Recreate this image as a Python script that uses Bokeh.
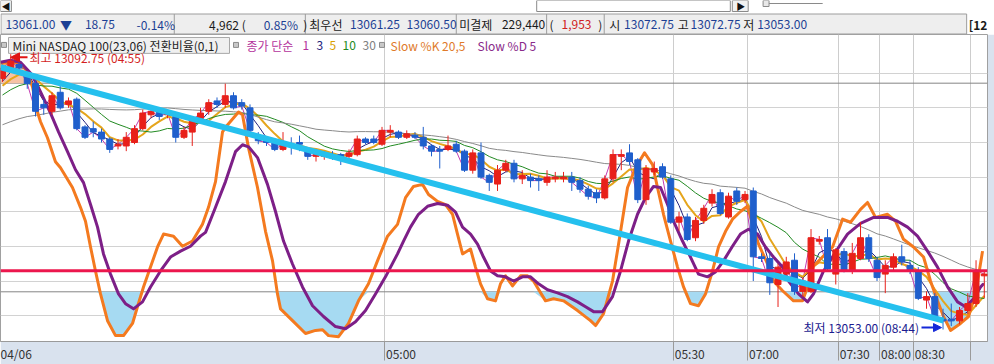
import numpy as np
import pandas as pd
from bokeh.plotting import figure
from bokeh.models import Range1d, FixedTicker, Span, Arrow, NormalHead, ColumnDataSource
from bokeh.layouts import column
from bokeh.embed import file_html
from bokeh.resources import INLINE
from bokeh.core.properties import value

FONT = "Noto Sans CJK KR"

# ---------------- data ----------------
opens = [13089.25, 13090.5, 13091.25, 13089.75, 13088.5, 13085.5, 13084.5, 13087.25, 13085.5, 13086.25,
         13082.25, 13082.0, 13081.5, 13080.5, 13079.5, 13079.5, 13080.0, 13082.0, 13084.0, 13084.5,
         13084.0, 13083.75, 13080.75, 13081.5, 13083.5, 13084.5, 13086.0, 13085.5, 13086.75, 13085.75,
         13085.0, 13080.75, 13080.25, 13080.0, 13079.0, 13079.75, 13080.0, 13078.75, 13078.0, 13078.0,
         13078.0, 13078.25, 13078.0, 13078.25, 13080.5, 13080.5, 13079.75, 13081.5, 13081.5, 13080.75,
         13081.0, 13080.75, 13079.5, 13079.0, 13079.0, 13079.75, 13078.75, 13076.0, 13078.5, 13075.25,
         13074.0, 13076.0, 13077.0, 13074.75, 13075.0, 13074.75, 13074.25, 13074.75, 13074.75, 13075.0,
         13074.5, 13073.25, 13072.75, 13072.0, 13074.75, 13078.0, 13078.5, 13077.5, 13071.75, 13075.75,
         13076.5, 13074.75, 13068.5, 13069.25, 13066.25, 13068.75, 13071.25, 13072.75, 13069.25, 13073.0,
         13071.75, 13073.0, 13063.5, 13063.25, 13059.5, 13061.0, 13063.0, 13058.5, 13058.5, 13065.75,
         13066.25, 13061.0, 13064.25, 13061.5, 13063.25, 13066.25, 13063.0, 13061.0, 13062.0, 13063.5,
         13062.25, 13061.5, 13057.25, 13057.75, 13054.5, 13054.5, 13054.25, 13055.75, 13056.75, 13060.75]
highs = [13091.25, 13092.75, 13092.25, 13090.25, 13089.0, 13086.25, 13087.25, 13088.25, 13086.5, 13086.5,
         13082.5, 13083.0, 13082.0, 13080.75, 13080.5, 13081.5, 13082.5, 13084.75, 13085.0, 13085.0,
         13084.75, 13084.0, 13082.25, 13083.75, 13085.0, 13086.25, 13086.5, 13088.5, 13087.25, 13086.25,
         13085.5, 13081.5, 13080.75, 13080.5, 13081.5, 13080.75, 13081.0, 13079.0, 13079.0, 13078.75,
         13078.75, 13078.5, 13079.0, 13081.0, 13080.75, 13081.0, 13082.25, 13082.5, 13081.75, 13081.75,
         13081.5, 13082.25, 13079.75, 13079.5, 13081.0, 13080.25, 13079.0, 13079.0, 13080.0, 13075.5,
         13076.75, 13077.5, 13077.5, 13076.0, 13075.5, 13075.25, 13076.0, 13075.75, 13075.75, 13075.75,
         13075.0, 13073.75, 13073.25, 13075.25, 13079.0, 13079.0, 13079.75, 13077.75, 13076.75, 13077.25,
         13077.0, 13075.25, 13070.0, 13069.75, 13069.25, 13071.0, 13073.25, 13073.25, 13072.75, 13073.5,
         13073.0, 13073.5, 13064.0, 13064.0, 13062.5, 13063.5, 13064.0, 13060.5, 13067.5, 13066.5,
         13067.5, 13064.75, 13064.75, 13065.5, 13068.5, 13066.75, 13063.5, 13063.0, 13064.0, 13065.25,
         13063.0, 13062.0, 13058.5, 13058.25, 13056.0, 13056.75, 13056.25, 13058.25, 13063.0, 13061.5]
lows = [13088.75, 13090.25, 13089.75, 13087.75, 13083.75, 13084.0, 13084.0, 13084.75, 13085.0, 13081.75,
        13080.5, 13080.75, 13080.0, 13078.5, 13079.0, 13078.75, 13079.75, 13081.75, 13083.5, 13083.25,
        13083.5, 13080.0, 13080.5, 13079.5, 13083.0, 13084.0, 13085.0, 13085.0, 13084.75, 13084.75,
        13081.5, 13079.75, 13079.5, 13078.75, 13078.75, 13078.25, 13078.75, 13077.5, 13077.25, 13077.5,
        13077.5, 13076.75, 13077.5, 13078.0, 13079.75, 13079.75, 13079.5, 13080.75, 13080.5, 13080.5,
        13080.5, 13079.0, 13078.0, 13076.25, 13078.75, 13078.5, 13075.75, 13075.5, 13074.75, 13073.0,
        13073.0, 13075.75, 13074.25, 13074.0, 13073.5, 13073.0, 13073.75, 13074.25, 13074.25, 13073.0,
        13072.75, 13071.75, 13071.25, 13071.75, 13074.25, 13076.0, 13076.75, 13071.25, 13071.0, 13075.25,
        13074.75, 13068.25, 13067.25, 13065.75, 13065.75, 13068.25, 13070.75, 13069.5, 13069.0, 13071.0,
        13071.25, 13060.0, 13062.75, 13058.0, 13056.25, 13060.5, 13058.0, 13057.75, 13058.25, 13065.25,
        13061.5, 13059.5, 13061.25, 13061.0, 13063.0, 13062.75, 13060.0, 13058.25, 13061.5, 13062.25,
        13061.0, 13057.25, 13056.0, 13054.25, 13053.0, 13053.5, 13053.75, 13055.25, 13056.25, 13057.5]
closes = [13090.75, 13091.75, 13090.75, 13088.5, 13084.5, 13085.0, 13086.75, 13085.0, 13086.0, 13082.0,
          13080.75, 13081.5, 13080.5, 13079.0, 13079.75, 13080.75, 13082.0, 13084.25, 13084.5, 13083.75,
          13084.25, 13080.75, 13081.75, 13083.25, 13084.25, 13085.75, 13085.5, 13086.75, 13085.0, 13085.25,
          13081.75, 13080.25, 13080.0, 13079.0, 13079.75, 13079.5, 13079.75, 13078.0, 13078.25, 13078.5,
          13077.75, 13078.0, 13078.5, 13080.5, 13080.0, 13080.0, 13081.75, 13081.75, 13080.75, 13081.25,
          13080.75, 13079.5, 13078.75, 13078.75, 13079.5, 13078.75, 13076.0, 13078.5, 13075.0, 13074.25,
          13076.0, 13077.0, 13074.75, 13075.25, 13074.5, 13074.5, 13075.0, 13075.0, 13075.0, 13074.25,
          13073.25, 13072.25, 13072.0, 13074.75, 13078.25, 13078.25, 13077.25, 13071.75, 13076.25, 13076.25,
          13075.0, 13068.5, 13069.25, 13066.0, 13068.75, 13070.5, 13072.5, 13069.75, 13072.25, 13071.5,
          13072.5, 13063.5, 13063.25, 13059.75, 13062.0, 13062.75, 13058.5, 13060.0, 13066.25, 13066.0,
          13061.75, 13064.5, 13061.5, 13064.0, 13066.25, 13063.25, 13060.5, 13062.25, 13063.5, 13062.75,
          13061.5, 13057.5, 13057.75, 13054.5, 13054.25, 13054.25, 13055.75, 13056.75, 13061.5, 13061.0]
# closes before the visible window (estimated, only feed the moving averages)
prior_closes = [13078.0, 13078.5, 13079.0, 13079.25, 13079.0, 13079.5, 13080.0, 13080.25, 13079.75, 13080.0,
                13080.5, 13081.0, 13080.75, 13081.25, 13081.5, 13081.0, 13081.5, 13082.0, 13082.5, 13083.0,
                13084.0, 13085.0, 13085.5, 13086.25, 13086.75, 13087.0, 13087.5, 13087.75, 13088.0]

# Slow %K 20,5 (read points: bar position, value)
k_x = [-0.24, 1.58, 2.79, 3.64, 4.24, 4.61, 5.45, 6.42, 7.03, 8.48,
       9.45, 10.06, 10.67, 11.27, 11.88, 12.73, 13.7, 14.67, 15.76, 16.36,
       17.09, 17.94, 18.79, 19.52, 20.73, 21.82, 23.03, 24.24, 24.97, 25.82,
       26.67, 27.27, 28.61, 29.09, 29.82, 30.91, 31.88, 32.73, 33.33, 33.7,
       35.15, 36.73, 37.94, 38.79, 39.52, 40.73, 41.94, 43.15, 44.36, 45.45,
       46.67, 47.88, 48.85, 49.82, 50.91, 51.64, 52.73, 53.7, 54.55, 55.15,
       55.76, 56.73, 57.33, 57.94, 58.79, 59.76, 60.36, 60.97, 61.82, 62.79,
       63.64, 64.36, 65.82, 66.79, 68.0, 69.7, 71.27, 71.88, 72.85, 73.94,
       74.67, 75.76, 76.73, 77.82, 78.79, 79.39, 80.12, 80.97, 81.82, 82.55,
       83.39, 84.36, 85.21, 86.06, 86.79, 87.64, 88.48, 89.45, 90.3, 90.91,
       91.64, 92.73, 93.45, 94.55, 95.88, 96.97, 97.58, 98.3, 99.39, 100.61,
       101.82, 102.79, 104.0, 104.85, 105.82, 107.27, 108.24, 109.21, 110.42, 111.64,
       112.48, 113.33, 114.06, 114.91, 116.12, 117.09, 117.94, 118.79]
k_v = [85.7, 86.0, 84.3, 78.9, 71.7, 68.9, 64.3, 57.4, 55.7, 50.0,
       44.3, 40.3, 32.9, 26.0, 19.4, 11.7, 7.4, 7.4, 10.9, 15.7,
       21.4, 27.1, 32.9, 36.6, 36.0, 33.1, 34.6, 39.4, 44.3, 51.7,
       66.0, 68.0, 71.7, 70.9, 61.4, 50.0, 37.4, 28.9, 19.4, 15.1,
       11.7, 8.0, 8.9, 9.1, 7.4, 7.1, 10.9, 17.4, 22.3, 28.9,
       36.0, 39.4, 47.1, 50.3, 50.9, 48.0, 46.0, 45.1, 42.3, 36.6,
       30.9, 32.3, 27.1, 22.3, 18.0, 17.4, 22.3, 24.6, 21.7, 24.6,
       24.6, 23.1, 17.4, 18.0, 17.4, 14.6, 11.7, 10.3, 13.7, 23.1,
       33.7, 50.0, 55.7, 60.0, 56.6, 50.0, 42.3, 34.6, 27.1, 21.4,
       16.6, 16.0, 19.4, 26.0, 32.9, 37.4, 40.9, 43.1, 44.6, 39.4,
       33.7, 28.0, 23.1, 20.3, 17.4, 17.4, 21.4, 27.4, 30.0, 32.9,
       40.9, 40.0, 43.7, 45.7, 41.4, 42.3, 40.3, 35.1, 32.9, 30.0,
       23.1, 17.4, 12.9, 8.9, 10.9, 12.9, 19.4, 31.7]
# Slow %D 5
d_x = [-0.24, 0.97, 2.18, 3.39, 4.24, 4.97, 5.82, 6.79, 7.88, 8.85,
       9.82, 10.67, 11.52, 12.24, 13.09, 14.06, 14.91, 15.88, 16.97, 17.94,
       19.15, 20.36, 21.58, 22.79, 24.0, 24.61, 25.82, 27.03, 28.24, 29.09,
       29.82, 30.91, 32.12, 33.09, 34.06, 35.15, 36.36, 37.58, 38.91, 40.36,
       41.58, 42.79, 44.0, 45.21, 46.42, 47.88, 48.61, 49.45, 50.42, 51.52,
       52.73, 53.94, 54.91, 55.76, 56.73, 57.58, 58.3, 59.15, 60.0, 60.97,
       61.94, 63.03, 64.0, 64.97, 66.06, 67.27, 68.48, 69.7, 70.67, 71.64,
       72.73, 73.94, 74.91, 75.88, 76.97, 77.94, 78.91, 79.76, 80.61, 81.33,
       82.42, 83.39, 84.36, 85.45, 86.42, 87.39, 88.48, 89.45, 90.42, 91.52,
       92.48, 93.45, 94.55, 95.27, 96.48, 97.58, 98.3, 99.52, 101.21, 102.42,
       104.0, 105.58, 107.27, 108.48, 109.7, 110.91, 112.12, 113.33, 114.55, 115.76,
       116.73, 117.7, 118.55, 118.91]
d_v = [86.0, 86.6, 86.0, 82.9, 79.4, 75.7, 71.4, 66.0, 60.3, 55.1,
       51.4, 45.1, 38.6, 30.9, 25.1, 19.4, 16.6, 15.1, 17.1, 21.4,
       26.0, 30.0, 31.7, 33.1, 36.0, 37.1, 44.3, 51.7, 60.3, 62.3,
       61.7, 58.6, 50.9, 43.1, 34.6, 28.0, 21.4, 16.0, 12.9, 10.0,
       9.4, 11.4, 14.6, 19.4, 24.3, 30.9, 34.6, 38.6, 42.3, 44.6,
       45.4, 44.9, 42.9, 38.6, 36.6, 33.7, 30.0, 26.0, 24.6, 24.3,
       23.1, 24.3, 24.3, 22.3, 20.6, 19.7, 18.6, 17.1, 15.7, 14.3,
       14.3, 18.6, 26.0, 34.6, 42.3, 47.1, 50.3, 50.0, 45.1, 40.3,
       34.6, 30.0, 25.1, 24.3, 25.7, 28.9, 33.1, 36.6, 38.0, 36.6,
       32.9, 30.0, 27.1, 23.1, 19.4, 17.1, 19.4, 26.0, 32.3, 36.6,
       39.7, 41.4, 41.4, 40.3, 38.6, 36.0, 31.7, 27.1, 21.4, 17.1,
       15.7, 18.0, 21.4, 22.3]

stoch_levels = [80, 20]
trend_x = [-0.24, 114.06]
trend_y = [13090.86, 13054.28]
price_line = 13061.5
grid_prices = [13055, 13060, 13065, 13070, 13075, 13080, 13085, 13090]
sep_pos = [46.3, 81.3, 90.3, 101.3, 106.3, 110.4, 117.3]          # time separators (bar units)
label_pos = [1.4, 48.3, 83.3, 92.3, 103.3, 108.3, 112.4]          # label centres (bar units)
tick_labels = ["04/06", "05:00", "05:30", "07:00", "07:30", "08:00", "08:30"]
ma_periods = [1, 3, 5, 10, 30]
ma_colors = ["#c23ab0", "#23237e", "#e5a51c", "#228a22", "#8a8a8a"]
ma_widths = [1, 1, 2, 1, 1]

# ---------------- main chart ----------------
n = len(closes)
idx = np.arange(n)
all_c = pd.Series(prior_closes + closes)

p = figure(width=994, height=330,
           x_range=Range1d(-0.242, 119.39), y_range=Range1d(13051.27, 13095.59),
           output_backend="svg", toolbar_location=None, y_axis_location=None,
           min_border_left=0, min_border_right=7, min_border_top=0, min_border_bottom=21)
p.extra_x_ranges = {"px": Range1d(0, 987)}
p.extra_y_ranges = {"px": Range1d(343, 34), "stoch": Range1d(5.71, 94.0)}
p.background_fill_color = "white"
p.border_fill_color = "#d9e2ee"
p.outline_line_color = "#a0a0a0"

p.xaxis.ticker = FixedTicker(ticks=label_pos, minor_ticks=sep_pos)
p.xaxis.major_label_overrides = {t: l for t, l in zip(label_pos, tick_labels)}
p.xaxis.major_label_text_font = FONT
p.xaxis.major_label_text_font_size = "12px"
p.xaxis.major_label_text_color = "#333333"
p.xaxis.axis_line_color = "#9a9a9a"
p.xaxis.major_tick_line_color = None
p.xaxis.major_tick_out = 0
p.xaxis.major_tick_in = 0
p.xaxis.minor_tick_line_color = "#9a9a9a"
p.xaxis.minor_tick_out = 19
p.xaxis.minor_tick_in = 0
p.xaxis.major_label_standoff = -16

p.xgrid.ticker = FixedTicker(ticks=sep_pos)
p.xgrid.grid_line_color = "#cdcdcd"
p.ygrid.ticker = FixedTicker(ticks=grid_prices)
p.ygrid.grid_line_color = "#d2d2d2"

# stochastic fills
k_arr = np.array(k_v[:len(k_x)])
kx = np.array(k_x[:len(k_arr)])
p.varea(x=kx, y1=20, y2=np.minimum(k_arr, 20), fill_color="#a6daf2", y_range_name="stoch")
p.varea(x=kx, y1=80, y2=np.maximum(k_arr, 80), fill_color="#f6c3a5", y_range_name="stoch")
for lv in stoch_levels:
    p.add_layout(Span(location=lv, dimension="width", y_range_name="stoch",
                      line_color="#858585", line_width=1, level="underlay"))

# moving averages of close
for per, col, w in zip(ma_periods, ma_colors, ma_widths):
    ma = all_c.rolling(per).mean().to_numpy()[len(prior_closes):]
    p.line(idx, ma, line_color=col, line_width=w)

# stochastic lines
p.line(kx, k_arr, y_range_name="stoch", line_color="#f47a1f", line_width=3, line_join="round")
m = min(len(d_x), len(d_v))
p.line(d_x[:m], d_v[:m], y_range_name="stoch", line_color="#7d1f87", line_width=3, line_join="round")

# candles
o = np.array(opens); c = np.array(closes)
colors = ["#e8201a" if cc >= oo else "#1f5fcc" for oo, cc in zip(o, c)]
src = ColumnDataSource(dict(x=idx, h=highs, l=lows, top=np.maximum(o, c), bot=np.minimum(o, c), color=colors))
p.segment(x0="x", y0="h", x1="x", y1="l", line_color="color", line_width=1, source=src)
p.vbar(x="x", top="top", bottom="bot", width=0.72, fill_color="color", line_color="color",
       line_width=1, source=src)

# trend line and price line
p.line(trend_x, trend_y, line_color="#25c0ee", line_width=6)
p.add_layout(Span(location=price_line, dimension="width", line_color="#ec174d", line_width=3))

# legend row
p.quad(left=[1, 233, 379], right=[6, 238, 384], bottom=[47, 47, 47], top=[42, 42, 42],
       fill_color="#c8c8c8", line_color="#8c8c8c", x_range_name="px", y_range_name="px")
p.quad(left=8, right=229, bottom=53, top=37, fill_color="#f0f0f0", line_color="#a8a8a8",
       x_range_name="px", y_range_name="px")
leg = ColumnDataSource(dict(
    x=[12, 246, 302, 316, 329, 342, 362, 390, 477],
    y=[45] * 9,
    t=["Mini NASDAQ 100(23,06) 전환비율(0,1)", "종가 단순", "1", "3", "5", "10", "30",
       "Slow %K 20,5", "Slow %D 5"],
    c=["#1e1e1e", "#b4329c", "#b4329c", "#23237e", "#d9a000", "#228a22", "#808080",
       "#e07a2a", "#8a2a8a"]))
p.text(x="x", y="y", text="t", text_color="c", source=leg, text_font=value(FONT),
       text_font_size="12px", text_baseline="middle", text_align="left",
       x_range_name="px", y_range_name="px")

# high / low annotations
p.add_layout(Arrow(end=NormalHead(size=9, fill_color="#e01414", line_color="#e01414"),
                   x_start=27, y_start=57, x_end=10, y_end=57, line_color="#e01414", line_width=2,
                   x_range_name="px", y_range_name="px"))
p.text(x=[29], y=[57], text=["최고 13092.75 (04:55)"], text_color="#d41f1f", text_font=value(FONT),
       text_font_size="12px", text_baseline="middle", x_range_name="px", y_range_name="px")
p.text(x=[803], y=[329], text=["최저 13053.00 (08:44)"], text_color="#1b1b8f", text_font=value(FONT),
       text_font_size="12px", text_baseline="middle", x_range_name="px", y_range_name="px")
p.add_layout(Arrow(end=NormalHead(size=8, fill_color="#1428d8", line_color="#1428d8"),
                   x_start=921, y_start=329, x_end=941, y_end=329, line_color="#1428d8", line_width=2,
                   x_range_name="px", y_range_name="px"))

# ---------------- toolbar strip + info bar ----------------
t = figure(width=994, height=34, x_range=Range1d(0, 994), y_range=Range1d(34, 0),
           output_backend="svg", toolbar_location=None, x_axis_location=None, y_axis_location=None,
           min_border=0)
t.background_fill_color = "#ffffff"
t.border_fill_color = "#ffffff"
t.outline_line_color = None
t.xgrid.visible = False
t.ygrid.visible = False
# toolbar remnants
t.quad(left=[0, 540, 737], right=[11, 735, 753], top=[0, 0, 0], bottom=[11, 11, 11],
       fill_color=["#f2f2f2", "#ffffff", "#f2f2f2"], line_color="#8a8a8a")
t.text(x=[1, 741], y=[5.5, 5.5], text=["◀", "▶"], text_color="#111111", text_font=value(FONT),
       text_font_size="9px", text_baseline="middle")
t.segment(x0=[768], y0=[3], x1=[828], y1=[3], line_color="#8a8a8a")
t.quad(left=[768], right=[774], top=[0], bottom=[6], fill_color="#e8e8e8", line_color="#8a8a8a")
# info bar
t.quad(left=0.5, right=973, top=13.5, bottom=33.5, fill_color="#eeeeee", line_color="#9c9c9c")
t.segment(x0=[175, 307, 459, 550, 608], y0=[13.5] * 5, x1=[175, 307, 459, 550, 608], y1=[33.5] * 5,
          line_color="#9c9c9c")
BLUE = "#1c3f94"
BLK = "#1a1a1a"
info = ColumnDataSource(dict(
    x=[5, 60, 85, 137, 210, 265, 305, 311, 352, 409, 462, 505, 553, 565, 602, 613, 628, 682, 695, 748, 762],
    y=[23.5] * 21,
    t=["13061.00", "▼", "18.75", "-0.14%", "4,962 (", "0.85%", ")", "최우선", "13061.25", "13060.50",
       "미결제", "229,440", "(", "1,953", ")", "시", "13072.75", "고", "13072.75", "저", "13053.00"],
    c=[BLUE, BLUE, BLUE, BLUE, BLK, BLUE, BLK, BLK, BLUE, BLUE,
       BLK, BLK, BLK, "#d02020", BLK, BLK, BLUE, BLK, BLUE, BLK, BLUE]))
t.text(x="x", y="y", text="t", text_color="c", source=info, text_font=value(FONT),
       text_font_size="12px", text_baseline="middle", text_align="left")
t.text(x=[975], y=[23.5], text=["[12"], text_color=BLK, text_font=value(FONT),
       text_font_size="12px", text_font_style="bold", text_baseline="middle")

layout = column(t, p, spacing=0)
open("out.html", "w").write(file_html(layout, INLINE))
